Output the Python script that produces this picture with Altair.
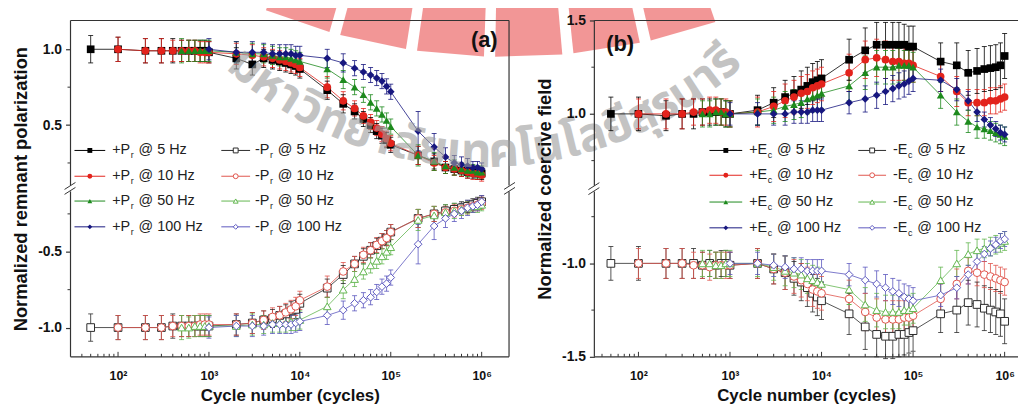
import math
import altair as alt
import pandas as pd

# ---------------- data ----------------
X_5HZ = [50,
         100, 200, 300, 400, 500, 600, 700, 800, 900,
         1000, 2000, 3000, 4000, 5000, 6000, 7000, 8000, 9000,
         10000, 20000, 30000, 40000, 50000, 60000, 70000, 80000, 90000,
         100000, 200000, 300000, 400000, 500000, 600000, 700000, 800000, 900000,
         1000000]
X_10HZ = X_5HZ[1:]
X_50HZ = X_5HZ[5:]
X_100HZ = X_5HZ[10:]

FREQS = ["5 Hz", "10 Hz", "50 Hz", "100 Hz"]

# (a) remnant polarization
PR_POS_5 = [1.00,
            1.00, 0.99, 0.99, 0.99, 0.99, 0.99, 0.99, 0.99, 0.99,
            0.98, 0.94, 0.90, 0.94, 0.93, 0.92, 0.91, 0.90, 0.89,
            0.87, 0.73, 0.64, 0.59, 0.54, 0.50, 0.46, 0.43, 0.40,
            0.37, 0.30, 0.26, 0.22, 0.21, 0.20, 0.19, 0.19, 0.18,
            0.18]
PR_POS_10 = [1.00, 0.99, 0.99, 0.99, 0.99, 0.99, 0.99, 0.98, 0.98,
             0.98, 0.97, 0.96, 0.95, 0.94, 0.93, 0.92, 0.91, 0.90,
             0.88, 0.75, 0.66, 0.61, 0.56, 0.52, 0.48, 0.44, 0.41,
             0.38, 0.30, 0.25, 0.22, 0.21, 0.20, 0.19, 0.18, 0.18,
             0.17]
PR_POS_50 = [0.99, 0.99, 0.99, 0.99, 0.99,
             0.99, 0.98, 0.97, 0.97, 0.96, 0.95, 0.95, 0.94, 0.93,
             0.92, 0.87, 0.80, 0.75, 0.70, 0.65, 0.61, 0.57, 0.53,
             0.49, 0.30, 0.26, 0.23, 0.22, 0.21, 0.20, 0.20, 0.19,
             0.19]
PR_POS_100 = [1.00, 0.98, 0.98, 0.98, 0.97, 0.97, 0.97, 0.97, 0.96,
              0.96, 0.94, 0.91, 0.875, 0.85, 0.83, 0.81, 0.79, 0.755,
              0.72, 0.46, 0.355, 0.29, 0.25, 0.24, 0.23, 0.22, 0.22,
              0.21]
PR_NEG_5 = [-1.00,
            -1.00, -1.00, -1.00, -0.99, -0.99, -0.99, -0.99, -0.99, -0.99,
            -0.99, -0.98, -0.97, -0.95, -0.94, -0.92, -0.91, -0.89, -0.88,
            -0.84, -0.74, -0.65, -0.58, -0.53, -0.49, -0.46, -0.43, -0.41,
            -0.37, -0.28, -0.25, -0.23, -0.22, -0.21, -0.20, -0.19, -0.18,
            -0.17]
PR_NEG_10 = [-1.00, -1.00, -1.00, -0.99, -0.99, -0.99, -0.99, -0.98, -0.98,
             -0.98, -0.98, -0.97, -0.95, -0.93, -0.92, -0.90, -0.88, -0.86,
             -0.82, -0.73, -0.63, -0.58, -0.52, -0.49, -0.455, -0.43, -0.41,
             -0.37, -0.28, -0.25, -0.24, -0.23, -0.22, -0.21, -0.20, -0.19,
             -0.18]
PR_NEG_50 = [-1.00, -1.00, -0.99, -0.99, -0.99,
             -0.99, -0.99, -0.98, -0.98, -0.97, -0.97, -0.97, -0.96, -0.96,
             -0.95, -0.86, -0.75, -0.68, -0.63, -0.59, -0.56, -0.53, -0.50,
             -0.47, -0.29, -0.26, -0.24, -0.23, -0.22, -0.21, -0.20, -0.20,
             -0.19]
PR_NEG_100 = [-1.00, -0.99, -0.99, -0.99, -0.98, -0.98, -0.98, -0.98, -0.97,
              -0.96, -0.92, -0.885, -0.84, -0.82, -0.80, -0.765, -0.73, -0.71,
              -0.67, -0.45, -0.33, -0.28, -0.25, -0.23, -0.21, -0.20, -0.19,
              -0.17]

ERR_PR_5 = [0.09,
            0.08, 0.08, 0.08, 0.08, 0.07, 0.07, 0.07, 0.07, 0.07,
            0.07, 0.07, 0.07, 0.06, 0.06, 0.06, 0.06, 0.06, 0.06,
            0.06, 0.06, 0.06, 0.05, 0.05, 0.05, 0.05, 0.05, 0.05,
            0.05, 0.06, 0.05, 0.04, 0.04, 0.04, 0.04, 0.04, 0.04,
            0.04]
ERR_PR_10 = [0.08, 0.08, 0.08, 0.07, 0.07, 0.07, 0.07, 0.07, 0.07,
             0.07, 0.07, 0.07, 0.06, 0.06, 0.06, 0.06, 0.06, 0.06,
             0.06, 0.07, 0.06, 0.05, 0.05, 0.05, 0.05, 0.05, 0.05,
             0.05, 0.06, 0.05, 0.04, 0.04, 0.04, 0.04, 0.04, 0.04,
             0.04]
ERR_PR_50 = [0.08, 0.07, 0.07, 0.07, 0.07,
             0.07, 0.07, 0.07, 0.06, 0.06, 0.06, 0.06, 0.06, 0.06,
             0.06, 0.06, 0.06, 0.05, 0.05, 0.05, 0.05, 0.05, 0.05,
             0.05, 0.07, 0.06, 0.05, 0.05, 0.04, 0.04, 0.04, 0.04,
             0.04]
ERR_PR_100 = [0.07, 0.07, 0.07, 0.06, 0.06, 0.06, 0.06, 0.06, 0.06,
              0.06, 0.06, 0.06, 0.05, 0.05, 0.05, 0.05, 0.05, 0.05,
              0.05, 0.13, 0.09, 0.06, 0.05, 0.05, 0.05, 0.04, 0.04,
              0.04]

# (b) coercive field
EC_POS_5 = [1.00,
            1.00, 0.99, 1.00, 1.00, 1.01, 1.01, 1.01, 1.01, 1.00,
            1.00, 1.02, 1.06, 1.09, 1.11, 1.13, 1.15, 1.17, 1.18,
            1.19, 1.29, 1.34, 1.37, 1.37, 1.37, 1.37, 1.37, 1.36,
            1.36, 1.28, 1.26, 1.22, 1.23, 1.24, 1.245, 1.25, 1.26,
            1.31]
EC_POS_10 = [1.00, 1.00, 1.00, 1.01, 1.01, 1.02, 1.02, 1.01, 1.01,
             1.00, 1.01, 1.04, 1.07, 1.09, 1.11, 1.12, 1.14, 1.15,
             1.16, 1.22, 1.29, 1.30, 1.29, 1.28, 1.28, 1.27, 1.27,
             1.26, 1.20, 1.12, 1.06, 1.06, 1.06, 1.07, 1.07, 1.08,
             1.09]
EC_POS_50 = [1.00, 1.00, 1.01, 1.01, 1.00,
             1.00, 1.01, 1.02, 1.04, 1.05, 1.06, 1.08, 1.09, 1.10,
             1.11, 1.15, 1.22, 1.25, 1.25, 1.25, 1.26, 1.26, 1.26,
             1.25, 1.10, 1.01, 0.96, 0.93, 0.92, 0.91, 0.90, 0.89,
             0.88]
EC_POS_100 = [1.00, 1.00, 1.00, 1.00, 1.01, 1.01, 1.01, 1.02, 1.02,
              1.02, 1.06, 1.08, 1.10, 1.12, 1.135, 1.15, 1.16, 1.175,
              1.19, 1.18, 1.13, 1.07, 1.01, 0.97, 0.94, 0.92, 0.90,
              0.89]
EC_NEG_5 = [-1.00,
            -1.00, -1.00, -1.00, -1.00, -1.01, -1.00, -1.01, -1.00, -1.00,
            -1.01, -1.00, -1.03, -1.05, -1.08, -1.10, -1.13, -1.16, -1.18,
            -1.20, -1.27, -1.34, -1.38, -1.39, -1.39, -1.38, -1.38, -1.37,
            -1.36, -1.27, -1.25, -1.21, -1.22, -1.24, -1.25, -1.26, -1.27,
            -1.31]
EC_NEG_10 = [-1.00, -1.00, -1.00, -1.01, -1.01, -1.02, -1.01, -1.01, -1.01,
             -1.01, -1.00, -1.03, -1.05, -1.07, -1.09, -1.11, -1.14, -1.15,
             -1.16, -1.19, -1.26, -1.29, -1.30, -1.30, -1.30, -1.29, -1.29,
             -1.28, -1.19, -1.11, -1.04, -1.05, -1.06, -1.07, -1.08, -1.09,
             -1.10]
EC_NEG_50 = [-1.00, -1.00, -1.01, -1.01, -1.00,
             -1.00, -1.00, -1.02, -1.04, -1.05, -1.06, -1.08, -1.09, -1.10,
             -1.11, -1.14, -1.22, -1.25, -1.26, -1.26, -1.26, -1.25, -1.25,
             -1.24, -1.09, -1.00, -0.95, -0.93, -0.92, -0.91, -0.90, -0.89,
             -0.88]
EC_NEG_100 = [-1.00, -1.00, -1.01, -1.02, -1.03, -1.03, -1.04, -1.04, -1.04,
              -1.04, -1.06, -1.09, -1.11, -1.13, -1.15, -1.16, -1.18, -1.19,
              -1.20, -1.17, -1.13, -1.06, -0.99, -0.95, -0.92, -0.90, -0.88,
              -0.87]

ERR_EC_5 = [0.09,
            0.09, 0.08, 0.08, 0.08, 0.07, 0.07, 0.07, 0.07, 0.07,
            0.07, 0.08, 0.08, 0.09, 0.09, 0.10, 0.10, 0.10, 0.10,
            0.10, 0.11, 0.12, 0.12, 0.12, 0.12, 0.12, 0.11, 0.11,
            0.11, 0.10, 0.12, 0.12, 0.12, 0.12, 0.12, 0.12, 0.12,
            0.12]
ERR_EC_10 = [0.08, 0.08, 0.08, 0.07, 0.07, 0.07, 0.07, 0.07, 0.07,
             0.07, 0.08, 0.08, 0.09, 0.09, 0.09, 0.09, 0.09, 0.09,
             0.09, 0.10, 0.10, 0.10, 0.10, 0.10, 0.10, 0.09, 0.09,
             0.09, 0.08, 0.08, 0.07, 0.07, 0.07, 0.07, 0.07, 0.07,
             0.07]
ERR_EC_50 = [0.07, 0.07, 0.07, 0.07, 0.07,
             0.07, 0.07, 0.07, 0.08, 0.08, 0.08, 0.08, 0.08, 0.08,
             0.08, 0.08, 0.09, 0.09, 0.09, 0.09, 0.09, 0.08, 0.08,
             0.08, 0.07, 0.07, 0.06, 0.06, 0.05, 0.05, 0.05, 0.05,
             0.05]
ERR_EC_100 = [0.06, 0.06, 0.06, 0.06, 0.06, 0.06, 0.06, 0.06, 0.06,
              0.06, 0.06, 0.07, 0.07, 0.07, 0.07, 0.07, 0.07, 0.07,
              0.07, 0.06, 0.06, 0.05, 0.05, 0.04, 0.04, 0.04, 0.04,
              0.04]

# axis tick values
X_MAJOR = [1e2, 1e3, 1e4, 1e5, 1e6]
X_MINOR = [40, 50, 60, 70, 80, 90,
           200, 300, 400, 500, 600, 700, 800, 900,
           2000, 3000, 4000, 5000, 6000, 7000, 8000, 9000,
           2e4, 3e4, 4e4, 5e4, 6e4, 7e4, 8e4, 9e4,
           2e5, 3e5, 4e5, 5e5, 6e5, 7e5, 8e5, 9e5]
Y_MAJOR_A = [1.0, 0.5, -0.5, -1.0]
Y_MINOR_A = [0.75, 0.25, -0.25, -0.75]
Y_MAJOR_B = [1.5, 1.0, -1.0, -1.5]
Y_MINOR_B = [1.25, 0.75, -0.75, -1.25]

# watermark (university name, arced across the top) and its red emblem rays
WATERMARK = ["ม", "ห", "า", "วิ", "ท", "ย", "า", "ลั", "ย", "เ", "ท", "ค", "โ", "น",
             "โ", "ล", "ยี", "สุ", "ร", "น", "า", "รี"]
WM_WIDTH = [0.62, 0.60, 0.50, 0.52, 0.62, 0.58, 0.50, 0.60, 0.58, 0.34, 0.62, 0.58,
            0.38, 0.62, 0.38, 0.60, 0.58, 0.58, 0.50, 0.62, 0.50, 0.50]
RAY_ANGLES = [-19, -12, -5, 2, 9, 16]

# ---------------- style ----------------
FONT = "Liberation Sans"
POS_COLORS = ["#000000", "#e3231c", "#1d8a1d", "#17177f"]
NEG_COLORS = ["#2a2a2a", "#e0554d", "#63b650", "#5c58bf"]
SHAPES = ["square", "circle", "triangle-up", "diamond"]
SERIES_DOMAIN = ["pos " + f for f in FREQS] + ["neg " + f for f in FREQS]
SERIES_RANGE = POS_COLORS + NEG_COLORS
FRAME = "#333333"
LEG_FS = 14.5
SUB_FS = 9
ORIGIN_A = (70.7, 18.3)   # page position of panel (a) plot origin


def rows(kind, freq, xs, ys, es):
    assert len(xs) == len(ys) == len(es), (kind, freq)
    return [dict(x=x, y=y, err=e, series=f"{kind} {freq}", freq=freq, kind=kind)
            for x, y, e in zip(xs, ys, es)]


XS = [X_5HZ, X_10HZ, X_50HZ, X_100HZ]
df_a = pd.DataFrame(
    sum([rows("pos", f, x, y, e) for f, x, y, e in
         zip(FREQS, XS, [PR_POS_5, PR_POS_10, PR_POS_50, PR_POS_100],
             [ERR_PR_5, ERR_PR_10, ERR_PR_50, ERR_PR_100])], []) +
    sum([rows("neg", f, x, y, e) for f, x, y, e in
         zip(FREQS, XS, [PR_NEG_5, PR_NEG_10, PR_NEG_50, PR_NEG_100],
             [ERR_PR_5, ERR_PR_10, ERR_PR_50, ERR_PR_100])], []))
df_b = pd.DataFrame(
    sum([rows("pos", f, x, y, e) for f, x, y, e in
         zip(FREQS, XS, [EC_POS_5, EC_POS_10, EC_POS_50, EC_POS_100],
             [ERR_EC_5, ERR_EC_10, ERR_EC_50, ERR_EC_100])], []) +
    sum([rows("neg", f, x, y, e) for f, x, y, e in
         zip(FREQS, XS, [EC_NEG_5, EC_NEG_10, EC_NEG_50, EC_NEG_100],
             [ERR_EC_5, ERR_EC_10, ERR_EC_50, ERR_EC_100])], []))

ONE = pd.DataFrame({"k": [0]})

# Arial / Liberation Sans advance widths (per 1000 em)
AW = {"+": 584, "-": 333, "P": 667, "E": 667, "r": 333, "c": 500}


def tw(s, size):
    return sum(AW.get(ch, 556) for ch in s) * size / 1000.0


def static_text(txt, x, y, size=12, weight="normal", color="#222222", align="left",
                font=FONT, angle=0, opacity=1, baseline="middle"):
    return alt.Chart(ONE).mark_text(
        text=txt, font=font, fontSize=size, fontWeight=weight, color=color,
        align=align, baseline=baseline, angle=angle, opacity=opacity).encode(
        x=alt.value(x), y=alt.value(y))


def static_rule(x1, y1, x2, y2, color=FRAME, width=1.2):
    return alt.Chart(ONE).mark_rule(color=color, strokeWidth=width).encode(
        x=alt.value(x1), x2=alt.value(x2), y=alt.value(y1), y2=alt.value(y2))


def legend_entry(x_line0, x_line1, x_text, y, color, shape, filled, sign, letter, sub, freq):
    xm = (x_line0 + x_line1) / 2
    layers = [static_rule(x_line0, y, x_line1, y, color=color, width=1)]
    pt = alt.Chart(ONE).mark_point(
        shape=shape, size=24, filled=filled, color=color, opacity=1,
        strokeWidth=1, **({} if filled else {"fill": "white"})
    ).encode(x=alt.value(xm), y=alt.value(y))
    layers.append(pt)
    head = sign + letter
    layers.append(static_text(head, x_text, y, LEG_FS))
    w = tw(head, LEG_FS)
    layers.append(static_text(sub, x_text + w + 0.5, y + 5, SUB_FS))
    layers.append(static_text("@ " + freq, x_text + w + tw(sub, SUB_FS) + 5.5, y, LEG_FS))
    return layers


def watermark_text(ox, oy):
    # characters set along an arc; (ox, oy) = page position of the panel origin
    cx, cy, R, fs = 486.0, -221.0, 387.0, 48.0
    theta0 = math.radians(-42.0)
    out = []
    acc = 0.0
    for ch, w in zip(WATERMARK, WM_WIDTH):
        s = acc + w * fs / 2
        acc += w * fs
        th = theta0 + s / R
        px = cx + R * math.sin(th) - ox
        py = cy + R * math.cos(th) - oy
        ang = (-math.degrees(th)) % 360
        out.append(static_text(ch, px, py, fs, "bold", "#9c9c9c", "center",
                               font="Noto Sans Thai, Noto Sans, DejaVu Sans", angle=ang,
                               opacity=0.6, baseline="alphabetic"))
    return out


def watermark_rays(ox, oy):
    # red emblem rays fanning out from a centre above the page, cut at the page top
    cx, cy, r_out, half, ytop = 510.0, -592.0, 647.0, 3.0, 4.0
    ax, ay, S = 480.0, 30.0, 250.0
    out = []
    for a in RAY_ANGLES:
        pts = []
        for d in (a - half, a + half):
            t = math.radians(d)
            r_top = (ytop - cy) / math.cos(t)
            pts.append((cx + r_top * math.sin(t), ytop))
        for d in (a + half, a - half):
            t = math.radians(d)
            pts.append((cx + r_out * math.sin(t), cy + r_out * math.cos(t)))
        path = "M" + " L".join(f"{(px - ax) / S:.4f},{(py - ay) / S:.4f}" for px, py in pts) + " Z"
        out.append(alt.Chart(ONE).mark_point(
            shape=path, size=(2 * S) ** 2, filled=True, fill="#e8403f", opacity=0.55,
            strokeWidth=0).encode(x=alt.value(ax - ox), y=alt.value(ay - oy)))
    return out


def make_panel(df, gap, ydom, xdom, W, H, ytitle, ymajor, yminor, panel_label,
               label_xy, leg, letter, sub, right_frame=True, under=(), over=()):
    xs = alt.Scale(type="log", domain=xdom, nice=False)
    ys = alt.Scale(domain=ydom, nice=False, zero=False)
    color = alt.Color("series:N", scale=alt.Scale(domain=SERIES_DOMAIN, range=SERIES_RANGE),
                      legend=None)
    shape = alt.Shape("freq:N", scale=alt.Scale(domain=FREQS, range=SHAPES), legend=None)
    ycalc = f"datum.y > 0 ? datum.y - {gap} : datum.y + {gap}"
    base = alt.Chart(df).transform_calculate(yp=ycalc).transform_calculate(
        ylo="datum.yp - datum.err", yhi="datum.yp + datum.err")

    lab = (f"replace(format(datum.value > 0 ? datum.value + {gap} : datum.value - {gap}, '.1f'),"
           f" '\u2212', '-')")
    xaxis = alt.Axis(values=X_MAJOR, title="Cycle number (cycles)", ticks=False, domain=False,
                     grid=False, labelPadding=13, titlePadding=6, labelFontSize=12.5,
                     titleFontSize=17, labelFlush=False, labelOverlap=False,
                     labelExpr="'10' + ['\u2070','\u00b9','\u00b2','\u00b3','\u2074','\u2075','\u2076'][round(log(datum.value)/LN10)]")
    ymaj_plot = [v - gap if v > 0 else v + gap for v in ymajor]
    ymin_plot = [v - gap if v > 0 else v + gap for v in yminor]
    yaxis = alt.Axis(values=ymaj_plot, labelExpr=lab, title=ytitle, tickSize=5, tickWidth=1.2,
                     domain=False, grid=False, labelPadding=4, labelFontSize=14,
                     titleFontSize=18.5, titleX=-44, titleY=H / 2, titleBaseline="alphabetic",
                     titleAngle=270, titleAlign="center", labelOverlap=False, labelFlush=False)

    def X(field="x"):
        return alt.X(f"{field}:Q", scale=xs, axis=xaxis)

    def Y(field="yp"):
        return alt.Y(f"{field}:Q", scale=ys, axis=yaxis)

    lines = base.mark_line(strokeWidth=0.8).encode(
        x=X(), y=Y(), color=color, detail="series:N", order="x:Q")
    ebar = base.mark_rule(strokeWidth=0.8).encode(x=X(), y=Y("ylo"), y2="yhi:Q", color=color)
    cap_lo = base.mark_tick(orient="horizontal", size=5, thickness=0.8, opacity=1).encode(
        x=X(), y=Y("ylo"), color=color)
    cap_hi = base.mark_tick(orient="horizontal", size=5, thickness=0.8, opacity=1).encode(
        x=X(), y=Y("yhi"), color=color)
    pts_pos = base.transform_filter("datum.kind == 'pos'").mark_point(
        filled=True, size=60, opacity=1).encode(x=X(), y=Y(), color=color, shape=shape)
    pts_neg = base.transform_filter("datum.kind == 'neg'").mark_point(
        filled=False, fill="white", size=60, opacity=1, strokeWidth=1).encode(
        x=X(), y=Y(), color=color, shape=shape)

    # ticks drawn inward on the bottom axis
    xmaj = alt.Chart(pd.DataFrame({"x": X_MAJOR})).mark_rule(color=FRAME, strokeWidth=1).encode(
        x=X(), y=alt.value(H), y2=alt.value(H - 5))
    xmin = alt.Chart(pd.DataFrame({"x": X_MINOR})).mark_rule(color=FRAME, strokeWidth=1).encode(
        x=X(), y=alt.value(H), y2=alt.value(H - 3))
    ymin = alt.Chart(pd.DataFrame({"yp": ymin_plot})).mark_rule(color=FRAME, strokeWidth=1).encode(
        y=Y(), x=alt.value(-3), x2=alt.value(0))

    bp = H * ydom[1] / (ydom[1] - ydom[0])
    frame = [static_rule(0, 0, W, 0), static_rule(0, H, W, H),
             static_rule(0, 0, 0, bp - 3), static_rule(0, bp + 3, 0, H),
             static_rule(-6, bp + 1, 5, bp - 6, width=1), static_rule(-6, bp + 6, 5, bp - 1, width=1)]
    if right_frame:
        frame += [static_rule(W, 0, W, bp - 3), static_rule(W, bp + 3, W, H),
                  static_rule(W - 5, bp + 1, W + 6, bp - 6, width=1),
                  static_rule(W - 5, bp + 6, W + 6, bp - 1, width=1)]

    legend_layers = []
    (c1a, c1b, c1t), (c2a, c2b, c2t), ys_rows = leg
    for i, f in enumerate(FREQS):
        legend_layers += legend_entry(c1a, c1b, c1t, ys_rows[i], POS_COLORS[i], SHAPES[i], True,
                                      "+", letter, sub, f)
        legend_layers += legend_entry(c2a, c2b, c2t, ys_rows[i], NEG_COLORS[i], SHAPES[i], False,
                                      "-", letter, sub, f)

    plabel = static_text(panel_label, label_xy[0], label_xy[1], 22, "bold", "#111111", "center")

    return alt.layer(*under, lines, ebar, cap_lo, cap_hi, pts_pos, pts_neg, xmaj, xmin, ymin,
                     *frame, *legend_layers, plabel, *over).properties(width=W, height=H)


H = 339
panel_a = make_panel(df_a, 0.082, [-1.111, 1.108], [30, 2.0e6], 442, H,
                     "Normalized remnant polarization", Y_MAJOR_A, Y_MINOR_A, "(a)", (417, 20),
                     ((4, 35, 42), (152, 181, 186), [131, 157, 182, 208]), "P", "r",
                     under=watermark_rays(*ORIGIN_A), over=watermark_text(*ORIGIN_A))
panel_b = make_panel(df_b, 0.6, [-0.9, 0.9], [33, 1.4e6], 427, H,
                     "Normalized coercive field", Y_MAJOR_B, Y_MINOR_B, "(b)", (26, 24),
                     ((116, 149, 156), (266, 294, 301), [131, 156, 183, 209]), "E", "c",
                     right_frame=False)

chart = alt.hconcat(panel_a, panel_b, spacing=86, bounds="flush").properties(
    padding={"left": 3, "top": -4, "right": 0, "bottom": 0}
).configure_view(stroke=None).configure_axis(
    labelFont=FONT, titleFont=FONT, labelFontWeight="bold", titleFontWeight="bold",
    labelColor="#111111", titleColor="#111111", tickColor=FRAME)

chart.save("out.html", embed_options={"renderer": "svg", "actions": False})
